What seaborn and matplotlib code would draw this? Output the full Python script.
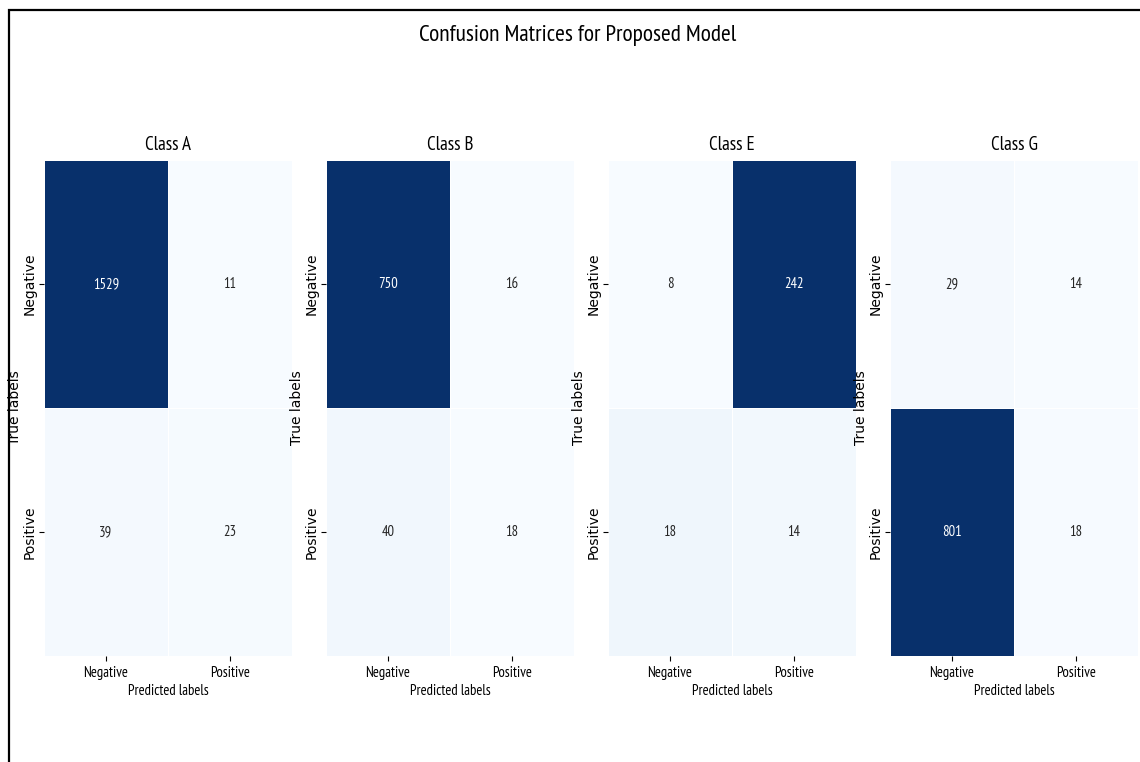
import numpy as np
import matplotlib
matplotlib.use("Agg")
import matplotlib.pyplot as plt
from matplotlib import font_manager as fm
from matplotlib.textpath import TextPath
from matplotlib.patches import Rectangle
import seaborn as sns

# Confusion matrix counts per class (rows: true, columns: predicted)
class_names = ["Class A", "Class B", "Class E", "Class G"]
cm_class_a = [[1529, 11], [39, 23]]
cm_class_b = [[750, 16], [40, 18]]
cm_class_e = [[8, 242], [18, 14]]
cm_class_g = [[29, 14], [801, 18]]
tick_labels = ["Negative", "Positive"]
matrices = [cm_class_a, cm_class_b, cm_class_e, cm_class_g]

SAMPLE = "Confusion Matrices for Proposed Model 1529 Negative"
TARGET_RATIO = 0.73  # width of the narrow face relative to DejaVu Sans


def text_width(prop):
    return TextPath((0, 0), SAMPLE, size=10, prop=prop).get_extents().width


def pick_narrow_font():
    """Find an upright regular narrow sans face; return (FontProperties, ratio)."""
    base = text_width(fm.FontProperties(family="DejaVu Sans"))
    preferred = ["Open Sans Condensed", "Roboto Condensed", "PT Sans Narrow",
                 "Fira Sans Condensed", "Liberation Sans Narrow", "Noto Sans Condensed",
                 "IBM Plex Sans Condensed", "Archivo Narrow", "Asap Condensed",
                 "Encode Sans Condensed", "Sofia Sans Condensed", "DejaVu Sans"]
    best = None
    for e in fm.fontManager.ttflist:
        if e.style != "normal" or str(e.weight) not in ("400", "normal", "regular"):
            continue
        label = e.name + " " + e.fname.split("/")[-1]
        if not any(k in label for k in ("Condensed", "Narrow")):
            continue
        if any(k in label for k in ("Mono", "Serif", "Slab", "Italic", "Bold", "Light", "Thin",
                                    "Medium", "Black", "Semi", "Extra")):
            continue
        if not any(e.name.startswith(p.split()[0]) for p in preferred):
            continue
        try:
            prop = fm.FontProperties(fname=e.fname)
            ratio = text_width(prop) / base
        except Exception:
            continue
        rank = next((i for i, p in enumerate(preferred) if e.name.startswith(p.split()[0])), 99)
        score = abs(ratio - TARGET_RATIO) + 0.01 * rank
        if best is None or score < best[0]:
            best = (score, e.fname, ratio)
    if best is None:
        return fm.FontProperties(family="DejaVu Sans"), 1.0
    return fm.FontProperties(fname=best[1]), best[2]


narrow_prop, narrow_ratio = pick_narrow_font()
size_scale = float(np.clip(TARGET_RATIO / narrow_ratio, 0.85, 1.15))


def nfont(size):
    p = narrow_prop.copy()
    p.set_size(size * size_scale)
    return p


W, H = 1140, 762
fig = plt.figure(figsize=(W / 100, H / 100), dpi=100)

# frame around the figure
frame = Rectangle((9 / W, -0.5), 2.0, 0.5 + (1 - 10 / H), transform=fig.transFigure,
                  fill=False, edgecolor="black", linewidth=1.6, clip_on=False)
fig.add_artist(frame)

fig.text(578 / W, 1 - 36 / H, "Confusion Matrices for Proposed Model",
         ha="center", va="center", fontproperties=nfont(16))

lefts = [44, 326, 608, 890]
ax_w, top, bottom = 248, 160, 656
for left, name, cm in zip(lefts, class_names, matrices):
    ax = fig.add_axes([left / W, 1 - bottom / H, ax_w / W, (bottom - top) / H])
    sns.heatmap(np.array(cm), annot=True, fmt="d", cmap="Blues", cbar=False,
                linewidths=0.5, linecolor="white", ax=ax,
                xticklabels=tick_labels, yticklabels=tick_labels,
                annot_kws={"fontproperties": nfont(10)})
    ax.set_title(name, fontproperties=nfont(13), pad=7)
    ax.set_xlabel("Predicted labels", fontproperties=nfont(10), labelpad=3)
    ax.set_ylabel("True labels", fontsize=10, family="DejaVu Sans", labelpad=0)
    ax.tick_params(axis="y", pad=2)
    for t in ax.get_xticklabels():
        t.set_rotation(0)
        t.set_fontproperties(nfont(10))
    for t in ax.get_yticklabels():
        t.set_rotation(90)
        t.set_va("center")
        t.set_fontsize(10)
        t.set_family("DejaVu Sans")

fig.savefig("out.png", dpi=100)
